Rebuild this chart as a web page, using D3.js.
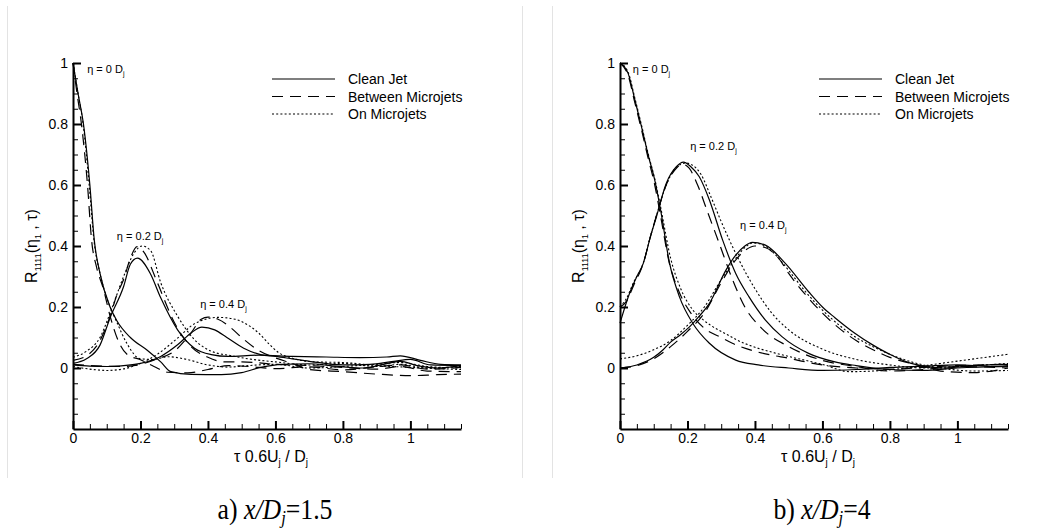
<!DOCTYPE html>
<html>
<head>
<meta charset="utf-8">
<script src="https://cdn.jsdelivr.net/npm/d3@7"></script>
<style>
  body { margin: 0; background: #fff; }
  svg { display: block; }
  text { font-family: "Liberation Sans", Arial, sans-serif; fill: #000; }
</style>
</head>
<body>
<svg class="chart" width="1064" height="529"></svg>
<script>
// tick labels
const tauTicks = [0, 0.2, 0.4, 0.6, 0.8, 1];
const rTicks = [0, 0.2, 0.4, 0.6, 0.8, 1];
const seriesNames = ["Clean Jet", "Between Microjets", "On Microjets"];
const etaValues = ["0", "0.2", "0.4"];

// a) x/Dj = 1.5   -- [tau, R]
const clean0A = [[0,1],[0.015,0.9],[0.031,0.8],[0.05,0.6],[0.063,0.42],[0.08,0.31],[0.11,0.2],[0.13,0.155],[0.17,0.1],[0.22,0.058],[0.26,0.02],[0.29,-0.012],[0.35,-0.021],[0.44,-0.022],[0.5,-0.015],[0.56,0.003],[0.62,0.012],[0.7,0.014],[0.78,0.006],[0.86,0],[0.92,0.012],[0.97,0.022],[1.02,0.008],[1.08,0],[1.15,0.008]];
const between0A = [[0,1],[0.012,0.9],[0.025,0.8],[0.043,0.6],[0.055,0.42],[0.07,0.33],[0.09,0.26],[0.11,0.17],[0.135,0.087],[0.16,0.045],[0.2,0.027],[0.24,0.005],[0.28,-0.014],[0.34,-0.016],[0.4,-0.005],[0.46,0.008],[0.52,0.005],[0.6,-0.002],[0.7,0.004],[0.8,-0.006],[0.9,0.004],[0.97,0.01],[1.05,-0.004],[1.15,0.002]];
const on0A = [[0,1],[0.015,0.9],[0.03,0.8],[0.048,0.6],[0.062,0.42],[0.08,0.31],[0.1,0.23],[0.13,0.15],[0.16,0.08],[0.2,0.03],[0.24,0.028],[0.28,0.037],[0.33,0.03],[0.4,0.01],[0.46,0.003],[0.52,0.008],[0.6,0.012],[0.7,0],[0.8,0.005],[0.9,0.012],[0.97,0.018],[1.05,0.005],[1.15,0]];
const clean02A = [[0,0.015],[0.04,0.03],[0.08,0.075],[0.11,0.165],[0.15,0.267],[0.17,0.34],[0.191,0.36],[0.229,0.31],[0.26,0.23],[0.31,0.125],[0.36,0.065],[0.41,0.044],[0.46,0.038],[0.55,0.042],[0.65,0.038],[0.75,0.036],[0.85,0.034],[0.93,0.036],[0.97,0.04],[1.03,0.025],[1.09,0.012],[1.15,0.01]];
const between02A = [[0,0.025],[0.04,0.04],[0.08,0.09],[0.11,0.17],[0.13,0.24],[0.15,0.29],[0.17,0.36],[0.19,0.398],[0.21,0.38],[0.25,0.28],[0.3,0.15],[0.35,0.07],[0.4,0.035],[0.45,0.02],[0.5,0.02],[0.6,0.012],[0.7,0.008],[0.8,0.002],[0.9,-0.004],[0.97,0.005],[1.05,-0.01],[1.15,-0.012]];
const on02A = [[0,0.035],[0.04,0.055],[0.08,0.1],[0.11,0.18],[0.15,0.3],[0.18,0.375],[0.205,0.4],[0.23,0.385],[0.26,0.28],[0.31,0.17],[0.36,0.093],[0.41,0.055],[0.47,0.04],[0.52,0.03],[0.6,0.02],[0.7,0.01],[0.8,0.015],[0.9,0.005],[0.97,0.012],[1.05,0],[1.15,0.005]];
const clean04A = [[0,0.01],[0.05,0.006],[0.1,0.005],[0.15,0.008],[0.2,0.015],[0.26,0.038],[0.31,0.076],[0.35,0.115],[0.382,0.134],[0.42,0.125],[0.456,0.1],[0.506,0.065],[0.556,0.044],[0.6,0.038],[0.65,0.03],[0.7,0.022],[0.8,0.01],[0.88,0.012],[0.95,0.022],[1,0.028],[1.06,0.01],[1.15,0.008]];
const between04A = [[0,0.012],[0.05,0.008],[0.1,0.006],[0.15,0.005],[0.2,0.012],[0.25,0.03],[0.3,0.055],[0.35,0.115],[0.38,0.16],[0.4,0.167],[0.43,0.16],[0.47,0.13],[0.5,0.1],[0.55,0.058],[0.6,0.033],[0.65,0.015],[0.7,-0.005],[0.8,-0.012],[0.9,-0.02],[1,-0.025],[1.08,-0.022],[1.15,-0.02]];
const on04A = [[0,0.005],[0.06,-0.005],[0.1,-0.008],[0.15,-0.003],[0.2,0.015],[0.25,0.045],[0.31,0.098],[0.36,0.145],[0.43,0.166],[0.48,0.16],[0.52,0.14],[0.55,0.115],[0.58,0.08],[0.61,0.05],[0.65,0.032],[0.72,0.02],[0.8,0.018],[0.9,0.008],[1,0.002],[1.15,-0.005]];

// b) x/Dj = 4
const clean0B = [[0,1],[0.024,0.966],[0.044,0.879],[0.064,0.79],[0.083,0.7],[0.103,0.616],[0.12,0.52],[0.147,0.343],[0.176,0.234],[0.216,0.146],[0.265,0.081],[0.343,0.026],[0.41,0.01],[0.5,0],[0.6,-0.008],[0.7,-0.005],[0.8,0.002],[0.9,0.006],[1,0.01],[1.1,0.005],[1.15,0.008]];
const between0B = [[0,1],[0.024,0.96],[0.044,0.87],[0.064,0.78],[0.083,0.69],[0.103,0.6],[0.12,0.5],[0.145,0.35],[0.175,0.25],[0.21,0.18],[0.25,0.13],[0.3,0.1],[0.333,0.081],[0.4,0.055],[0.45,0.042],[0.5,0.032],[0.55,0.02],[0.6,0.01],[0.7,0],[0.8,-0.004],[0.9,0.002],[1,0.008],[1.15,0.012]];
const on0B = [[0,1],[0.024,0.97],[0.044,0.885],[0.064,0.795],[0.083,0.705],[0.103,0.62],[0.12,0.53],[0.15,0.36],[0.18,0.26],[0.216,0.19],[0.25,0.155],[0.32,0.108],[0.35,0.09],[0.4,0.068],[0.45,0.052],[0.5,0.038],[0.55,0.025],[0.6,0.012],[0.68,-0.012],[0.75,-0.01],[0.85,0],[0.95,0.015],[1.05,0.03],[1.15,0.045]];
const clean02B = [[0,0.147],[0.03,0.25],[0.05,0.3],[0.069,0.343],[0.09,0.43],[0.108,0.496],[0.137,0.605],[0.167,0.66],[0.188,0.675],[0.21,0.66],[0.235,0.627],[0.265,0.551],[0.304,0.42],[0.343,0.31],[0.382,0.234],[0.431,0.157],[0.48,0.103],[0.559,0.048],[0.637,0.02],[0.7,0.008],[0.8,-0.005],[0.9,-0.008],[1,0],[1.15,0.005]];
const between02B = [[0,0.2],[0.02,0.22],[0.04,0.27],[0.069,0.343],[0.09,0.43],[0.108,0.5],[0.137,0.6],[0.167,0.655],[0.185,0.668],[0.205,0.655],[0.23,0.6],[0.26,0.51],[0.294,0.409],[0.33,0.3],[0.37,0.2],[0.42,0.13],[0.5,0.07],[0.6,0.025],[0.7,0.005],[0.8,-0.01],[0.9,-0.005],[1,0.005],[1.15,0]];
const on02B = [[0,0.2],[0.02,0.23],[0.04,0.28],[0.069,0.345],[0.09,0.43],[0.108,0.5],[0.137,0.6],[0.167,0.658],[0.195,0.672],[0.215,0.665],[0.24,0.635],[0.27,0.56],[0.3,0.48],[0.35,0.36],[0.4,0.26],[0.45,0.18],[0.5,0.125],[0.6,0.062],[0.7,0.028],[0.8,0.01],[0.9,0],[1,0.005],[1.15,0.015]];
const clean04B = [[0,0],[0.05,0.01],[0.1,0.035],[0.127,0.059],[0.15,0.085],[0.18,0.11],[0.206,0.135],[0.235,0.17],[0.265,0.212],[0.314,0.321],[0.343,0.37],[0.37,0.4],[0.392,0.412],[0.431,0.403],[0.49,0.343],[0.559,0.25],[0.6,0.2],[0.637,0.165],[0.696,0.114],[0.75,0.075],[0.794,0.048],[0.863,0.015],[0.96,0],[1.05,0.008],[1.15,0.012]];
const between04B = [[0,0],[0.05,0.008],[0.1,0.03],[0.15,0.07],[0.2,0.12],[0.25,0.18],[0.3,0.28],[0.34,0.35],[0.37,0.385],[0.4,0.4],[0.43,0.395],[0.47,0.36],[0.5,0.31],[0.55,0.24],[0.6,0.18],[0.65,0.13],[0.7,0.09],[0.75,0.06],[0.8,0.035],[0.88,0.01],[0.95,-0.01],[1.05,-0.015],[1.15,0]];
const on04B = [[0,0.03],[0.05,0.04],[0.1,0.06],[0.15,0.09],[0.2,0.14],[0.25,0.2],[0.3,0.29],[0.34,0.355],[0.37,0.395],[0.395,0.41],[0.43,0.4],[0.47,0.36],[0.5,0.32],[0.55,0.25],[0.6,0.19],[0.65,0.14],[0.7,0.1],[0.75,0.07],[0.8,0.045],[0.88,0.015],[0.95,0],[1.05,-0.01],[1.15,-0.008]];

const styles = [
  {dash: null, width: 1.2},
  {dash: "11,7", width: 1.2},
  {dash: "2,2.2", width: 1.1}
];

const svg = d3.select(".chart");

function drawPanel(p) {
  const x = d3.scaleLinear().domain([0, 1.15]).range([p.ox, p.ox + 388]);
  const y = d3.scaleLinear().domain([-0.2, 1]).range([429, 63]);
  const g = svg.append("g");

  // faint page frame lines
  p.frame.forEach(fx => {
    g.append("line").attr("x1", fx).attr("x2", fx).attr("y1", 6).attr("y2", 478)
      .attr("stroke", "#e3e3e3").attr("stroke-width", 1);
  });

  const minorX = d3.range(0, 1.151, 0.05).filter(v => Math.abs(v * 5 - Math.round(v * 5)) > 1e-6);
  const minorY = d3.range(-0.2, 1.001, 0.05).filter(v => Math.abs(v * 5 - Math.round(v * 5)) > 1e-6);

  const yAxis = g.append("g").attr("transform", `translate(${p.ox},0)`)
    .call(d3.axisLeft(y).tickValues(rTicks).tickSizeInner(-8).tickSizeOuter(0).tickPadding(5).tickFormat(d => String(d)));
  g.append("g").attr("transform", `translate(${p.ox},0)`)
    .call(d3.axisLeft(y).tickValues(minorY).tickSizeInner(-5).tickSizeOuter(0).tickFormat(""))
    .call(a => a.select(".domain").remove());

  const xAxis = g.append("g").attr("transform", `translate(0,${y(-0.2)})`)
    .call(d3.axisBottom(x).tickValues(tauTicks).tickSizeInner(-8).tickSizeOuter(0).tickPadding(4.5).tickFormat(d => String(d)));
  g.append("g").attr("transform", `translate(0,${y(-0.2)})`)
    .call(d3.axisBottom(x).tickValues(minorX).tickSizeInner(-5).tickSizeOuter(0).tickFormat(""))
    .call(a => a.select(".domain").remove());

  g.selectAll(".domain").attr("stroke", "#000").attr("stroke-width", 2);
  g.selectAll(".tick line").attr("stroke", "#000").attr("stroke-width", 1);
  yAxis.selectAll(".tick line").attr("stroke-width", 2);
  xAxis.selectAll(".tick line").attr("stroke-width", 2);
  g.selectAll(".tick text").attr("font-size", 14).attr("font-family", "Liberation Sans, Arial, sans-serif");

  // axis titles
  const yl = g.append("text")
    .attr("transform", `translate(${p.ox - 36},246) rotate(-90)`)
    .attr("text-anchor", "middle").attr("font-size", 16);
  yl.append("tspan").text("R");
  yl.append("tspan").attr("font-size", 9).attr("dy", 4).text("1111");
  yl.append("tspan").attr("dy", -4).text("(η");
  yl.append("tspan").attr("font-size", 9).attr("dy", 4).text("1");
  yl.append("tspan").attr("dy", -4).text(" , τ)");

  const xl = g.append("text")
    .attr("x", p.ox + 198).attr("y", 462)
    .attr("text-anchor", "middle").attr("font-size", 16);
  xl.append("tspan").text("τ 0.6U");
  xl.append("tspan").attr("font-size", 10).attr("dy", 4).text("j");
  xl.append("tspan").attr("dy", -4).text(" / D");
  xl.append("tspan").attr("font-size", 10).attr("dy", 4).text("j");

  // curves
  const line = d3.line().x(d => x(d[0])).y(d => y(d[1])).curve(d3.curveMonotoneX);
  p.series.forEach((group) => {
    group.forEach((data, i) => {
      g.append("path").datum(data)
        .attr("d", line)
        .attr("fill", "none")
        .attr("stroke", "#000")
        .attr("stroke-width", styles[i].width)
        .attr("stroke-dasharray", styles[i].dash);
    });
  });

  // eta annotations
  p.etaPos.forEach((pos, i) => {
    const t = g.append("text").attr("x", x(pos[0])).attr("y", y(pos[1])).attr("font-size", 11);
    t.append("tspan").text(`η = ${etaValues[i]} D`);
    t.append("tspan").attr("font-size", 7).attr("dy", 3).text("j");
  });

  // legend
  seriesNames.forEach((name, i) => {
    const ly = 79 + i * 17.5;
    g.append("line")
      .attr("x1", p.ox + 199).attr("x2", p.ox + 262)
      .attr("y1", ly).attr("y2", ly)
      .attr("stroke", "#000")
      .attr("stroke-width", styles[i].width)
      .attr("stroke-dasharray", styles[i].dash);
    g.append("text").attr("x", p.ox + 275).attr("y", ly + 5)
      .attr("font-size", 14).text(name);
  });

  // caption
  const c = g.append("text")
    .attr("transform", `translate(${p.ox + 202},519) scale(0.92,1.08)`)
    .attr("text-anchor", "middle")
    .style("font-family", "'Liberation Serif', 'Times New Roman', serif")
    .attr("font-size", 28);
  c.append("tspan").text(p.caption[0] + " ");
  c.append("tspan").style("font-style", "italic").text("x/D");
  c.append("tspan").style("font-style", "italic").attr("font-size", 18).attr("dy", 5).text("j");
  c.append("tspan").attr("dy", -5).text("=" + p.caption[1]);
}

drawPanel({
  ox: 73,
  frame: [7.5, 522.5],
  series: [[clean0A, between0A, on0A], [clean02A, between02A, on02A], [clean04A, between04A, on04A]],
  etaPos: [[0.042, 0.967], [0.13, 0.42], [0.377, 0.197]],
  caption: ["a)", "1.5"]
});

drawPanel({
  ox: 620,
  frame: [552.5],
  series: [[clean0B, between0B, on0B], [clean02B, between02B, on02B], [clean04B, between04B, on04B]],
  etaPos: [[0.038, 0.967], [0.208, 0.715], [0.356, 0.456]],
  caption: ["b)", "4"]
});
</script>
</body>
</html>
